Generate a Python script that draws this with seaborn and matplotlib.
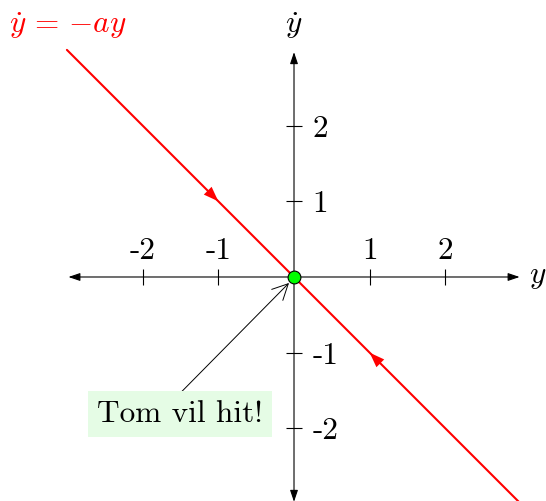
import matplotlib
matplotlib.use("Agg")
import matplotlib.pyplot as plt
import seaborn as sns
import pandas as pd

# Phase line data for  y' = -a y  (drawn with a = 1)
y_line = [-3.0, 3.0]
ydot_line = [3.0, -3.0]

# Equilibrium point
eq_y = [0.0]
eq_ydot = [0.0]

# Flow-direction arrow tips on the phase line (flow points toward the origin)
flow_tip_y = [-1.0, 1.0]
flow_tip_ydot = [1.0, -1.0]

# Axis ticks
x_ticks = [-2, -1, 1, 2]
x_tick_labels = ["-2", "-1", "1", "2"]
y_ticks = [-2, -1, 1, 2]
y_tick_labels = ["-2", "-1", "1", "2"]

line_df = pd.DataFrame({"y": y_line, "ydot": ydot_line})
eq_df = pd.DataFrame({"y": eq_y, "ydot": eq_ydot})

sns.set_theme(style="white")
plt.rcParams["font.family"] = ["cmr10", "DejaVu Serif"]
plt.rcParams["mathtext.fontset"] = "cm"
plt.rcParams["axes.unicode_minus"] = False

FS = 22.5

fig = plt.figure(figsize=(5.46, 5.01), dpi=100)
ax = fig.add_axes([0, 0, 1, 1])
ax.set_xlim(-3.884, 3.329)
ax.set_ylim(-2.959, 3.659)

# Axes through the origin with arrowheads at both ends
for s in ax.spines.values():
    s.set_visible(False)
ax.spines["top"].set_position(("data", 0))
ax.spines["right"].set_position(("data", 0))
ax.xaxis.set_ticks_position("top")
ax.yaxis.set_ticks_position("right")
ax.set_xticks(x_ticks, x_tick_labels)
ax.set_yticks(y_ticks, y_tick_labels)
ax.tick_params(axis="both", direction="inout", length=11, width=0.8,
               color="black", labelsize=FS, labelcolor="black")
ax.tick_params(axis="x", pad=3)
ax.tick_params(axis="y", pad=8)
ax.set_facecolor("white")

axis_arrow = dict(arrowstyle="<|-|>,head_length=0.5,head_width=0.17",
                  color="black", lw=0.8, shrinkA=0, shrinkB=0,
                  mutation_scale=14)
ax.annotate("", xy=(2.98, 0), xytext=(-2.98, 0), arrowprops=axis_arrow, zorder=2)
ax.annotate("", xy=(0, 2.97), xytext=(0, -2.97), arrowprops=axis_arrow, zorder=2)

# Phase line
sns.lineplot(data=line_df, x="y", y="ydot", color="red", linewidth=1.5,
             ax=ax, zorder=3, legend=False)

# Flow direction arrowheads along the line
for ty, td in zip(flow_tip_y, flow_tip_ydot):
    dy = -ty * 0.15
    dd = -td * 0.15
    ax.annotate("", xy=(ty, td), xytext=(ty - dy, td - dd),
                arrowprops=dict(arrowstyle="-|>,head_length=0.6,head_width=0.22",
                                color="red", lw=0, shrinkA=0, shrinkB=0,
                                mutation_scale=18),
                zorder=4)

# Equilibrium point
sns.scatterplot(data=eq_df, x="y", y="ydot", s=85, color="#00ff00",
                edgecolor="black", linewidth=0.8, ax=ax, zorder=5, legend=False)

ax.set_xlabel("")
ax.set_ylabel("")

# Labels
ax.text(-2.99, 3.32, r"$\dot{y}\,=\,{-}ay$", color="red", fontsize=FS,
        ha="center", va="center")
ax.text(0, 3.32, r"$\dot{y}$", color="black", fontsize=FS,
        ha="center", va="center")
ax.text(3.22, 0, r"$y$", color="black", fontsize=FS, ha="center", va="center")

# Callout
ax.annotate("Tom vil hit!", xy=(-0.066, -0.079), xytext=(-1.506, -1.81),
            fontsize=FS, ha="center", va="center", color="black",
            bbox=dict(boxstyle="square,pad=0.3", fc="#e5fce5", ec="none"),
            arrowprops=dict(arrowstyle="->,head_length=0.5,head_width=0.25",
                            color="black", lw=0.7, shrinkA=0, shrinkB=0,
                            patchA=None, relpos=(0.46, 1.0)),
            zorder=6)

fig.savefig("out.png", dpi=100)
